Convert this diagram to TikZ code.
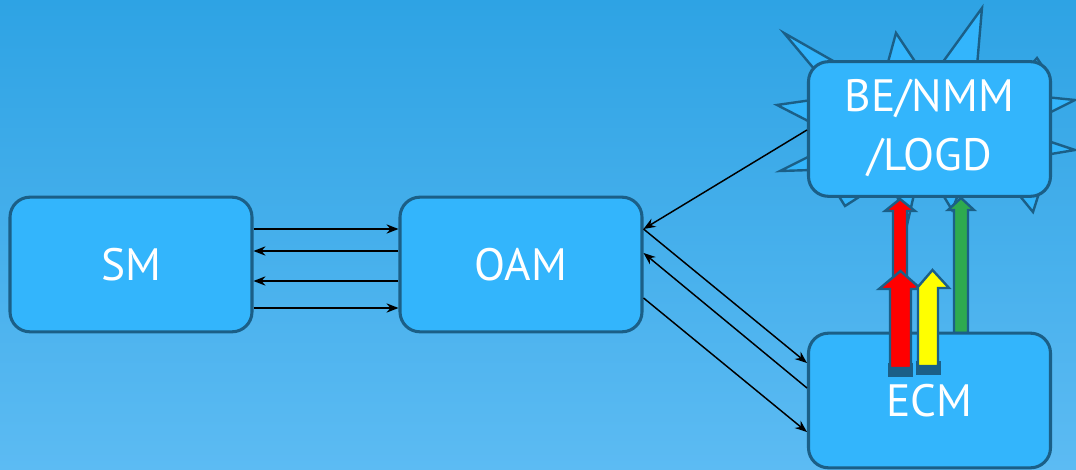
\documentclass[tikz,border=0pt]{standalone}
\usepackage{fontspec}
\setmainfont{PT Sans}
\usetikzlibrary{arrows.meta,calc}
\definecolor{bgtop}{HTML}{2EA3E4}
\definecolor{bgbot}{HTML}{5CBBF3}
\definecolor{boxfill}{HTML}{33B5FC}
\definecolor{boxline}{HTML}{1B5F87}
\definecolor{arrred}{HTML}{FF0000}
\definecolor{arryel}{HTML}{FFFF00}
\definecolor{arrgrn}{HTML}{2EAA4F}
\tikzset{
  blk/.style={draw=boxline, line width=2.3pt, fill=boxfill, rounded corners=15pt,
    minimum width=181.5pt, minimum height=101pt, inner sep=0pt,
    text=white, font=\fontsize{34}{44}\selectfont, align=center},
  conn/.style={draw=black, line width=1.1pt, -{Stealth[length=9pt,width=7pt,inset=3pt]}},
  star/.style={draw=boxline, line width=1.8pt, fill=boxfill, line join=miter},
  barrow/.style={draw=boxline, line width=1.8pt, line join=miter},
  bbase/.style={fill=boxline}
}
\begin{document}
\begin{tikzpicture}[x=0.75pt,y=-0.75pt]
\shade[top color=bgtop, bottom color=bgbot] (0,0) rectangle (1076,470);
\useasboundingbox (0,0) rectangle (1076,470);
% explosion star behind BE box
\draw[star] (815,70) -- (784,33) -- (842,66) -- (887,66) -- (896,33) -- (918,66) -- (940,66)
  -- (982,8) -- (977,66) -- (1030,66) -- (1037,58) -- (1045,70) -- (1045,97) -- (1075,100)
  -- (1045,115) -- (1045,140) -- (1075,150) -- (1045,155) -- (1040,190) -- (1033,212)
  -- (1015,190) -- (960,190) -- (952,210) -- (940,190) -- (915,190) -- (907,225)
  -- (895,190) -- (870,190) -- (845,206) -- (835,190) -- (812,170) -- (780,171)
  -- (812,155) -- (812,123) -- (777,105) -- (812,100) -- cycle;
\node[blk] (sm) at (131,264.5) {SM};
\node[blk] (oam) at (521,264.5) {OAM};
\node[blk] (be) at (929.5,129) {\raisebox{-4pt}{\renewcommand\arraystretch{1}\begin{tabular}{@{}c@{}}BE/NMM\\/LOGD\end{tabular}}};
% tall red arrow and green arrow
\draw[barrow, fill=arrred] (893,320) -- (893,211) -- (885,211) -- (900,199) -- (915,211) -- (907,211) -- (907,320) -- cycle;
\draw[barrow, fill=arrgrn] (954,333) -- (954,210) -- (948,210) -- (961,198) -- (974,210) -- (968,210) -- (968,333) -- cycle;
\node[blk] (ecm) at (929.5,400.5) {ECM};
% big red and yellow arrows
\fill[bbase] (888,363) rectangle (913,377);
\draw[barrow, fill=arrred] (890,368) -- (890,289) -- (879,289) -- (900.5,271) -- (921,289) -- (911,289) -- (911,368) -- cycle;
\fill[bbase] (916,361) rectangle (941,375);
\draw[barrow, fill=arryel] (918,366) -- (918,288) -- (917,288) -- (932.5,270) -- (949,288) -- (938,288) -- (938,366) -- cycle;
% connectors SM <-> OAM
\draw[conn] (sm.east |- 0,229) -- (oam.west |- 0,229);
\draw[conn] (oam.west |- 0,251) -- (sm.east |- 0,251);
\draw[conn] (oam.west |- 0,281) -- (sm.east |- 0,281);
\draw[conn] (sm.east |- 0,308) -- (oam.west |- 0,308);
% connectors OAM <-> BE / ECM
\draw[conn] (be.west |- 0,130) -- (oam.east |- 0,229);
\draw[conn] (oam.east |- 0,229) -- (ecm.west |- 0,363);
\draw[conn] (ecm.west |- 0,388) -- (oam.east |- 0,253);
\draw[conn] (oam.east |- 0,298) -- (ecm.west |- 0,432);
\end{tikzpicture}
\end{document}
